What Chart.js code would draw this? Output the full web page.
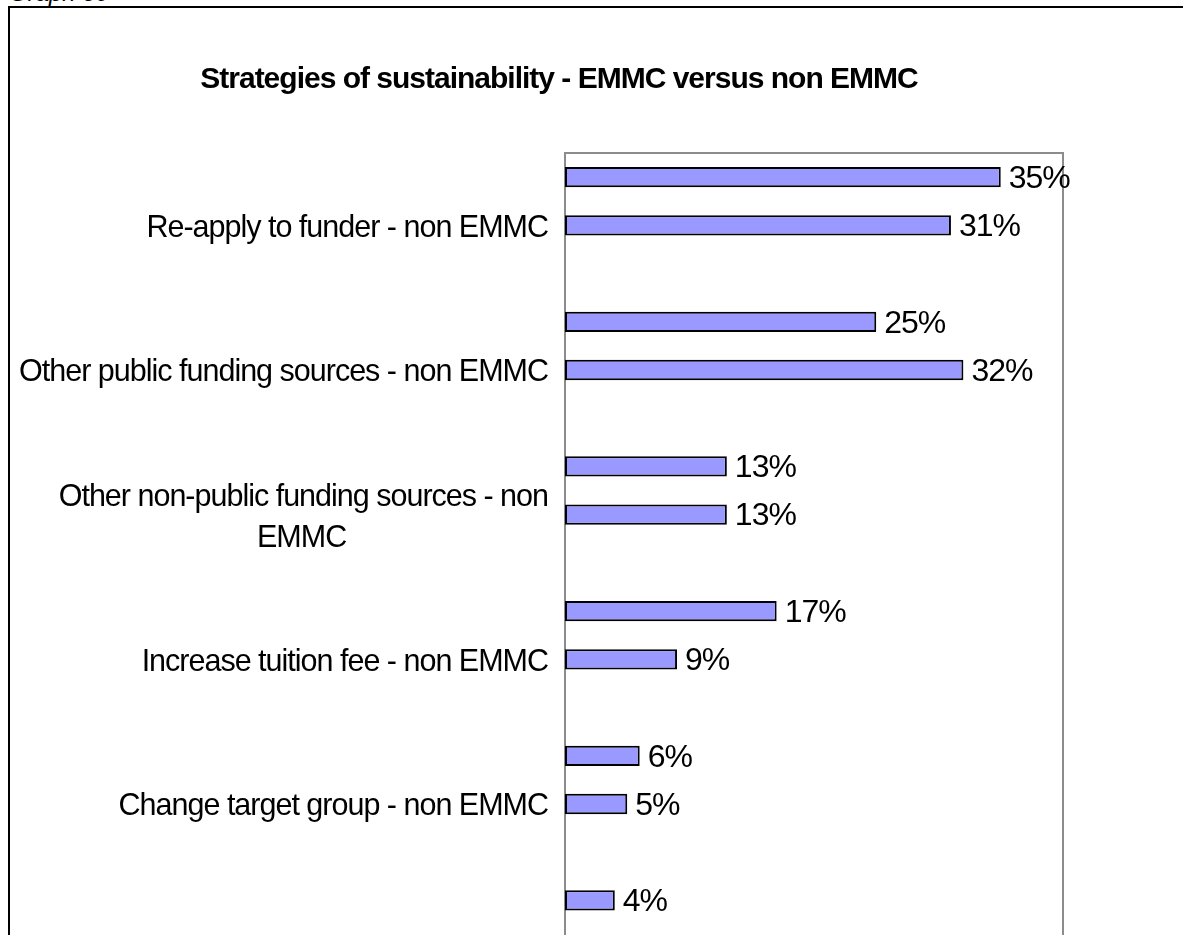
<!DOCTYPE html>
<html>
<head>
<meta charset="utf-8">
<script src="https://cdn.jsdelivr.net/npm/chart.js@4/dist/chart.umd.min.js"></script>
<style>
  html, body { margin: 0; padding: 0; background: #fff; overflow: hidden; width: 1183px; height: 935px; }
  #caption { position: absolute; left: 9px; top: -21px; line-height: 24px; font: italic 24px "Liberation Sans", Arial, sans-serif; color: #000; white-space: nowrap; }
  #frame { position: absolute; left: 8px; top: 6px; width: 1300px; height: 1200px; border: 2px solid #000; box-sizing: border-box; }
  #c { position: absolute; left: 10px; top: 8px; }
</style>
</head>
<body>
<div id="caption">Graph 30</div>
<div id="frame"></div>
<canvas id="c" width="1098" height="1060"></canvas>
<script>
// ---- data ----
const strategies = [
  'Re-apply to funder',
  'Other public funding sources',
  'Other non-public funding sources',
  'Increase tuition fee',
  'Change target group',
  'Other'
];
const emmcValues    = [35, 25, 13, 17, 6, 4];
const nonEmmcValues = [31, 32, 13, 9, 5, 10];
const chartTitle = 'Strategies of sustainability - EMMC versus non EMMC';

// build interleaved categories: EMMC, non EMMC, blank spacer
const categories = [];
const values = [];
strategies.forEach((s, i) => {
  categories.push(s + ' - EMMC');       values.push(emmcValues[i]);
  categories.push(s + ' - non EMMC');   values.push(nonEmmcValues[i]);
  categories.push('');                  values.push(null);
});

// ---- font setup: prefer a narrow Arial-metric face if it is installed ----
function hasFont(name) {
  const c = document.createElement('canvas').getContext('2d');
  const s = 'abcdefghijklmnopqrstuvwxyz ABCDEFGHIJKLM 0123456789';
  c.font = '40px monospace';
  const a = c.measureText(s).width;
  c.font = '40px "' + name + '", monospace';
  return Math.abs(c.measureText(s).width - a) > 0.5;
}
const NARROW = hasFont('Liberation Sans Narrow');
const T = NARROW
  ? { font: '"Liberation Sans Narrow", "Liberation Sans", Arial, sans-serif',
      ls: '-0.5px', tick: 35.5, value: 36, title: 35, titleLs: '-0.3px' }
  : { font: '"Liberation Sans", Arial, sans-serif',
      ls: '-1px', tick: 30.5, value: 32, title: 30, titleLs: '-1px' };
const FONT = T.font;

// measuring context for centring the wrapped second line
const mctx = document.createElement('canvas').getContext('2d');
mctx.letterSpacing = T.ls;
mctx.font = T.tick + 'px ' + FONT;

function wrapLabel(lab) {
  const cut = lab.lastIndexOf(' ');
  const l1 = lab.slice(0, cut), l2 = lab.slice(cut + 1);
  const w1 = mctx.measureText(l1).width, w2 = mctx.measureText(l2).width;
  const sw = mctx.measureText(' ').width;
  const n = Math.max(0, Math.round((w1 - w2) / 2 / sw));
  return [l1, l2 + ' '.repeat(n)];
}

const spacingPlugin = {
  id: 'spacing',
  beforeUpdate(chart) { chart.ctx.letterSpacing = T.ls; },
  beforeDraw(chart) { chart.ctx.letterSpacing = T.titleLs; },
  beforeDatasetsDraw(chart) { chart.ctx.letterSpacing = T.ls; }
};

const frameAndLabels = {
  id: 'frameAndLabels',
  beforeDatasetsDraw(chart) {
    const a = chart.chartArea, ctx = chart.ctx;
    ctx.save();
    ctx.strokeStyle = '#8c8c8c';
    ctx.lineWidth = 2;
    ctx.strokeRect(a.left, a.top, a.right - a.left, a.bottom - a.top);
    ctx.restore();
  },
  afterDatasetsDraw(chart) {
    const ctx = chart.ctx;
    const meta = chart.getDatasetMeta(0);
    ctx.save();
    ctx.letterSpacing = T.ls;
    ctx.font = T.value + 'px ' + FONT;
    ctx.fillStyle = '#000';
    ctx.textAlign = 'left';
    ctx.textBaseline = 'middle';
    meta.data.forEach((bar, i) => {
      const v = values[i];
      if (v === null || v === undefined) return;
      ctx.fillText(v + '%', bar.x + 8, bar.y + 2);
    });
    ctx.restore();
  }
};

const titleLine = T.title * 1.2;
const titleTop = 72 - titleLine / 2;

new Chart(document.getElementById('c'), {
  type: 'bar',
  data: {
    labels: categories,
    datasets: [{
      data: values,
      backgroundColor: '#9999ff',
      borderColor: '#000000',
      borderWidth: 2,
      borderSkipped: false,
      categoryPercentage: 1.0,
      barPercentage: 0.42
    }]
  },
  options: {
    indexAxis: 'y',
    responsive: false,
    animation: false,
    events: [],
    layout: { padding: { left: 0, right: 0, top: 0, bottom: 47 } },
    plugins: {
      legend: { display: false },
      tooltip: { enabled: false },
      title: {
        display: true,
        text: chartTitle,
        color: '#000',
        font: { family: FONT, size: T.title, weight: 'bold', lineHeight: 1.2 },
        padding: { top: titleTop, bottom: 145 - titleTop - titleLine }
      }
    },
    scales: {
      x: { display: false, min: 0, max: 40 },
      y: {
        grid: { display: false },
        border: { display: false },
        afterFit(scale) { scale.width = 555; },
        ticks: {
          autoSkip: false,
          padding: 9,
          labelOffset: 3,
          color: '#000',
          font: { family: FONT, size: T.tick, lineHeight: 41 / T.tick },
          callback(value, index) {
            const lab = categories[index];
            if (!lab || !lab.endsWith(' - non EMMC')) return '';
            if (lab.length > 40) return wrapLabel(lab);
            return lab;
          }
        }
      },
      yRight: {
        axis: 'y',
        type: 'linear',
        position: 'right',
        display: true,
        grid: { display: false },
        border: { display: false },
        ticks: { display: false },
        afterFit(scale) { scale.width = 45; }
      }
    }
  },
  plugins: [spacingPlugin, frameAndLabels]
});
</script>
</body>
</html>
